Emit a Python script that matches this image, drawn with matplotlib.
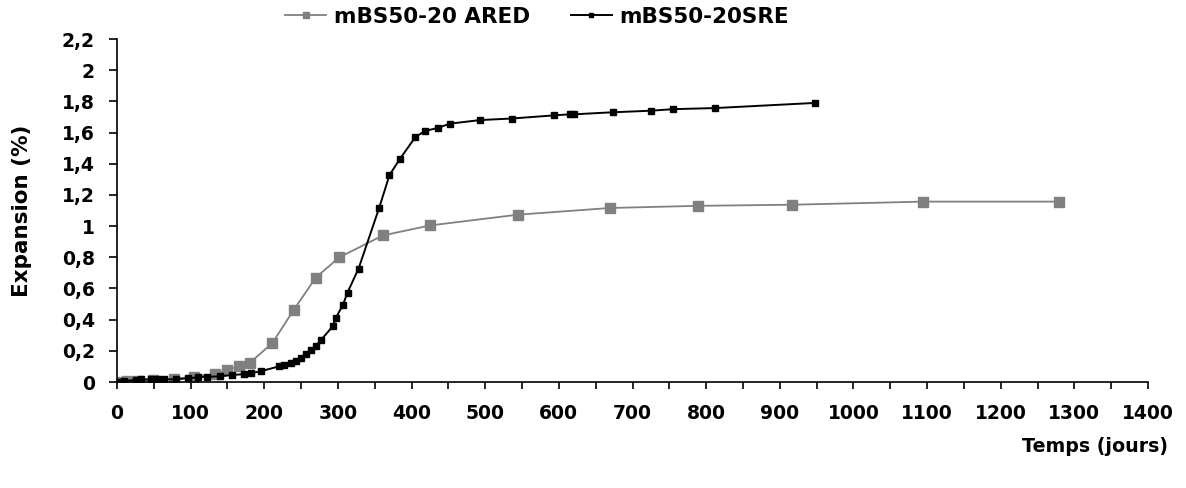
import matplotlib
matplotlib.use('Agg')
import matplotlib.pyplot as plt
from matplotlib.ticker import MultipleLocator, FuncFormatter

plt.rcParams['font.family'] = ['DejaVu Sans']
plt.rcParams['font.weight'] = 'bold'

GREY = (128 / 255, 128 / 255, 128 / 255)
BLACK = (0, 0, 0)

# mBS50-20 ARED
ared_days = [0, 14, 28, 49, 77, 105, 133, 150, 166, 181, 211, 240, 270, 302,
             361, 425, 544, 669, 789, 917, 1095, 1279]
ared_exp = [0, 0.005, 0.008, 0.012, 0.02, 0.035, 0.05, 0.08, 0.10, 0.125, 0.25,
            0.463, 0.67, 0.80, 0.94, 1.004, 1.073, 1.116, 1.13, 1.137, 1.157, 1.157]

# mBS50-20SRE
sre_days = [0, 10, 26, 33, 46, 55, 64, 80, 96, 110, 122, 140, 156, 172, 182, 195,
            220, 227, 236, 243, 250, 256, 264, 270, 277, 293, 297, 307, 313, 328,
            356, 370, 384, 405, 418, 436, 452, 493, 536, 593, 615, 621, 673, 725,
            755, 812, 948]
sre_exp = [0, 0.006, 0.015, 0.017, 0.017, 0.017, 0.017, 0.017, 0.024, 0.03, 0.034,
           0.036, 0.045, 0.05, 0.056, 0.069, 0.10, 0.11, 0.122, 0.135, 0.157, 0.177,
           0.207, 0.23, 0.27, 0.357, 0.41, 0.497, 0.574, 0.727, 1.117, 1.327, 1.43,
           1.57, 1.61, 1.63, 1.657, 1.68, 1.69, 1.71, 1.717, 1.717, 1.73, 1.74,
           1.75, 1.757, 1.79]

labels = ['mBS50-20 ARED', 'mBS50-20SRE']


def comma(v, pos):
    return ('%g' % round(v, 2)).replace('.', ',')


def main():
    fig = plt.figure(figsize=(11.86, 4.88), dpi=100)
    ax = fig.add_axes([117 / 1186, 1 - 382 / 488, (1148 - 117) / 1186, (382 - 39) / 488])

    ax.plot(ared_days, ared_exp, color=GREY, lw=1.3, marker='s', ms=6.5,
            label=labels[0], zorder=2)
    ax.plot(sre_days, sre_exp, color=BLACK, lw=1.4, marker='s', ms=4,
            label=labels[1], zorder=3)

    ax.set_xlim(0, 1400)
    ax.set_ylim(0, 2.2)
    ax.xaxis.set_major_locator(MultipleLocator(100))
    ax.xaxis.set_minor_locator(MultipleLocator(50))
    ax.yaxis.set_major_locator(MultipleLocator(0.2))
    ax.yaxis.set_major_formatter(FuncFormatter(comma))

    for side in ['top', 'right']:
        ax.spines[side].set_visible(False)
    for side in ['left', 'bottom']:
        ax.spines[side].set_linewidth(1.2)

    ax.tick_params(axis='x', which='both', direction='out', length=5, width=1.2, pad=11,
                   labelsize=13.5)
    ax.tick_params(axis='y', direction='out', length=6, width=1.2, pad=10, labelsize=13.5)
    for lab in ax.get_xticklabels() + ax.get_yticklabels():
        lab.set_fontweight('bold')

    fig.text(22 / 1186, 1 - 211 / 488, 'Expansion (%)', fontsize=15.5, fontweight='bold',
             rotation=90, ha='center', va='center')
    fig.text(1168 / 1186, 1 - 446 / 488, 'Temps (jours)', fontsize=13.7, fontweight='bold',
             ha='right', va='center')

    ax.legend(loc='center', bbox_to_anchor=(537 / 1186, 1 - 17 / 488),
              bbox_transform=fig.transFigure, ncol=2, frameon=False,
              prop={'size': 15.5, 'weight': 'bold'}, handlelength=1.9, handletextpad=0.35,
              columnspacing=1.9, markerscale=0.7)

    fig.savefig('out.png', dpi=100)


if __name__ == '__main__':
    main()
